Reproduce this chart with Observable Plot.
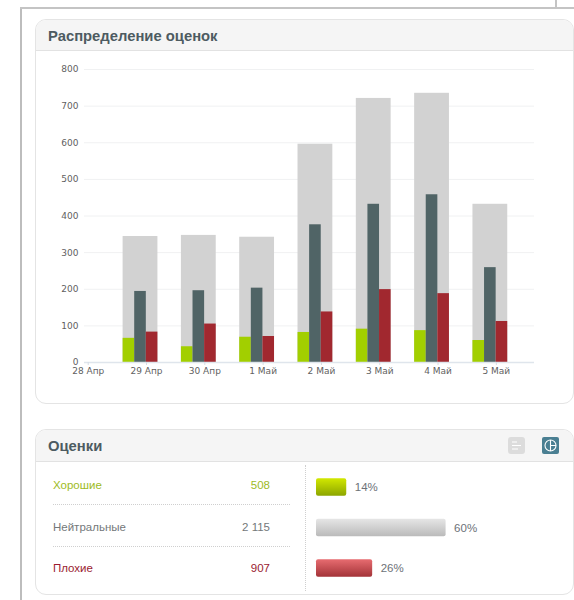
<!DOCTYPE html>
<html lang="ru">
<head>
<meta charset="utf-8">
<script src="https://cdn.jsdelivr.net/npm/d3@7"></script>
<script src="https://cdn.jsdelivr.net/npm/@observablehq/plot@0.6"></script>
<style>
html,body{margin:0;padding:0;background:#fff;width:574px;height:600px;overflow:hidden;font-family:"Liberation Sans",Arial,sans-serif}
.abs{position:absolute}
.frameL{left:20px;top:8px;width:2px;height:592px;background:#bdbdbd}
.frameT{left:20px;top:7px;width:554px;height:2px;background:#c4c4c4}
.frameV{left:555px;top:0;width:2px;height:8px;background:#c4c4c4}
.panel{left:35px;width:539px;box-sizing:border-box;border:1px solid #e4e4e4;border-radius:11px;background:#fff;overflow:hidden}
.head{position:absolute;left:0;right:0;top:0;background:#f5f5f5;border-bottom:1px solid #e2e2e2;box-sizing:border-box}
.head span{position:absolute;left:12px;font-weight:bold;font-size:14.8px;color:#4d5b61}
.row{font-size:11.5px;line-height:14px}
.dot{left:53px;width:237px;border-top:1px dotted #cfcfcf;height:0}
svg{display:block}
</style>
</head>
<body>
<div class="abs frameL"></div><div class="abs frameT"></div><div class="abs frameV"></div>

<div class="abs panel" style="top:19px;height:385px">
  <div class="head" style="height:31px"><span style="top:8px">Распределение оценок</span></div>
</div>
<div class="abs" id="chart" style="left:35px;top:50px"></div>

<div class="abs panel" style="top:429px;height:166px">
  <div class="head" style="height:32px"><span style="top:8px">Оценки</span></div>
</div>
<svg class="abs" style="left:508px;top:437px" width="17" height="17">
  <rect width="17" height="17" rx="3" fill="#dcdcdc"/>
  <path d="M4 5h5M4 8.5h9M4 12h6" stroke="#fff" stroke-width="1.2"/>
</svg>
<svg class="abs" style="left:542px;top:437px" width="17" height="17">
  <rect width="17" height="17" rx="2" fill="#4a7f92"/>
  <circle cx="8.5" cy="8.5" r="5.5" fill="none" stroke="#fff" stroke-width="1.1"/>
  <path d="M8.5 3v11M8.5 8.5H14" fill="none" stroke="#fff" stroke-width="1.1"/>
</svg>
<div id="table"></div>
<div class="abs" style="left:305px;top:465px;height:126px;border-left:1px dotted #cfcfcf"></div>
<div class="abs" id="share" style="left:306px;top:462px"></div>

<svg width="0" height="0" style="position:absolute">
  <defs>
    <linearGradient id="gGood" x1="0" y1="0" x2="0" y2="1"><stop offset="0" stop-color="#d2e800"/><stop offset="1" stop-color="#8ca500"/></linearGradient>
    <linearGradient id="gNeutral" x1="0" y1="0" x2="0" y2="1"><stop offset="0" stop-color="#e6e6e6"/><stop offset="1" stop-color="#bababa"/></linearGradient>
    <linearGradient id="gBad" x1="0" y1="0" x2="0" y2="1"><stop offset="0" stop-color="#e76c70"/><stop offset="1" stop-color="#a33338"/></linearGradient>
  </defs>
</svg>

<script>
const days = ["28 Апр","29 Апр","30 Апр","1 Май","2 Май","3 Май","4 Май","5 Май"];
const barDays = days.slice(1);
const totals = [344,347,342,596,721,735,432];
const good = [66,43,69,82,91,87,60];
const neutral = [194,196,203,376,432,458,259];
const bad = [83,105,71,138,199,188,112];
const yTicks = [0,100,200,300,400,500,600,700,800];

const categories = ["Хорошие","Нейтральные","Плохие"];
const counts = ["508","2 115","907"];
const shares = [14,60,26];
const textColors = ["#9dbb1e","#74787a","#9a1b30"];
const gradients = ["url(#gGood)","url(#gNeutral)","url(#gBad)"];

const W = 34.8, third = W / 3;
const col = (values) => barDays.map((day, i) => ({day, value: values[i]}));

const chart = Plot.plot({
  width: 539, height: 350,
  marginLeft: 49, marginRight: 40, marginTop: 19, marginBottom: 38,
  style: {background: "transparent", fontFamily: "'DejaVu Sans',sans-serif", fontSize: "9px", color: "#5f5f5f"},
  x: {type: "band", domain: days, range: [17.55, 484], paddingInner: 0.403, paddingOuter: 0.2015, round: false, label: null},
  y: {domain: [0, 800], label: null},
  marks: [
    Plot.ruleY(yTicks.filter(d => d > 0), {stroke: "#f0f1f2", strokeWidth: 1}),
    Plot.barY(col(totals), {x: "day", y: "value", fill: "#d2d2d2"}),
    Plot.barY(col(good), {x: "day", y: "value", fill: "#a2cf00", insetRight: 2 * third}),
    Plot.barY(col(neutral), {x: "day", y: "value", fill: "#506466", insetLeft: third, insetRight: third}),
    Plot.barY(col(bad), {x: "day", y: "value", fill: "#a1282f", insetLeft: 2 * third}),
    Plot.ruleY([0], {stroke: "#dfe5ec", strokeWidth: 1.5}),
    Plot.axisY({ticks: yTicks, tickSize: 0, tickPadding: 6, label: null, fill: "#5f5f5f"}),
    Plot.axisX({tickSize: 3, tickPadding: 2, dx: 6, stroke: "#d5dde6", fill: "#5f5f5f", label: null})
  ]
});
document.getElementById("chart").appendChild(chart);

const rows = categories.map((name, i) => ({name, share: shares[i], fill: gradients[i]}));
const share = Plot.plot({
  width: 268, height: 130,
  margin: 0,
  style: {background: "transparent", fontFamily: "'Liberation Sans',Arial,sans-serif", fontSize: "11.5px"},
  x: {domain: [0, 100], range: [10, 226], axis: null},
  y: {type: "band", domain: categories, range: [4.75, 126.25], paddingInner: 0.568, paddingOuter: 0.284, round: false, axis: null},
  marks: [
    Plot.barX(rows, {y: "name", x1: 0, x2: "share", fill: "fill", rx: 2}),
    Plot.text(rows, {y: "name", x: "share", text: d => d.share + "%", dx: 8, textAnchor: "start", fill: "#6d7278"})
  ]
});
document.getElementById("share").appendChild(share);

const rowTops = [478, 520, 561];
const table = document.getElementById("table");
categories.forEach((name, i) => {
  table.insertAdjacentHTML("beforeend",
    `<div class="abs row" style="left:53px;top:${rowTops[i]}px;color:${textColors[i]}">${name}</div>` +
    `<div class="abs row" style="right:304px;top:${rowTops[i]}px;color:${textColors[i]}">${counts[i]}</div>`);
});
[504, 546].forEach(t => table.insertAdjacentHTML("beforeend", `<div class="abs dot" style="top:${t}px"></div>`));
</script>
</body>
</html>
